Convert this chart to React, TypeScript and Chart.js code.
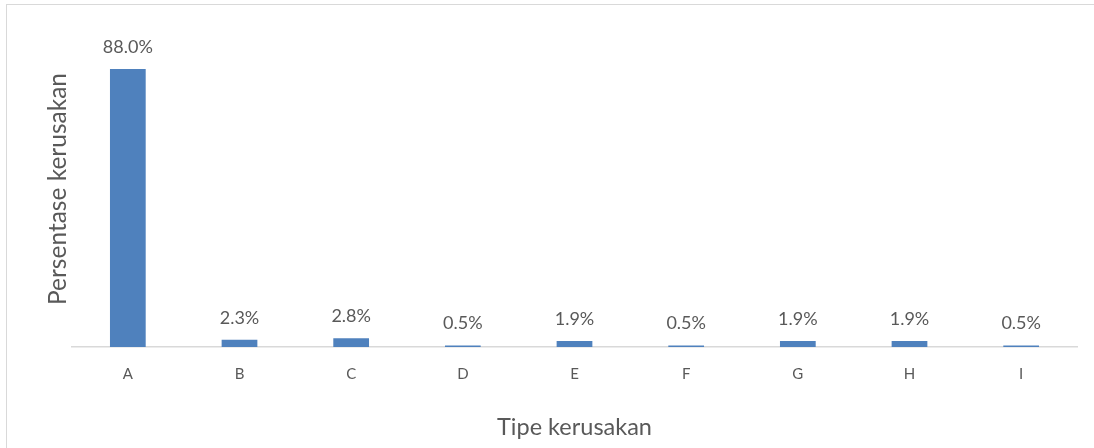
import React, { useEffect, useRef } from "react";
import { Chart, registerables } from "chart.js";

Chart.register(...registerables);

const categories = ["A", "B", "C", "D", "E", "F", "G", "H", "I"];
const values = [88.0, 2.3, 2.8, 0.5, 1.9, 0.5, 1.9, 1.9, 0.5];
const xTitle = "Tipe kerusakan";
const yTitle = "Persentase kerusakan";

const FONT = "Lato, 'Open Sans', sans-serif";
const TEXT = "#595959";

const labelPlugin = {
  id: "valueLabels",
  afterDatasetsDraw(chart: any) {
    const ctx = chart.ctx;
    const meta = chart.getDatasetMeta(0);
    ctx.save();
    ctx.font = `18px ${FONT}`;
    ctx.fillStyle = TEXT;
    ctx.textAlign = "center";
    ctx.textBaseline = "middle";
    meta.data.forEach((bar: any, i: number) => {
      const v = chart.data.datasets[0].data[i] as number;
      ctx.fillText(v.toFixed(1) + "%", bar.x, bar.y - 22);
    });
    ctx.restore();
  },
};

export default function App() {
  const ref = useRef<HTMLCanvasElement>(null);
  useEffect(() => {
    if (!ref.current) return;
    const chart = new Chart(ref.current, {
      type: "bar",
      data: {
        labels: categories,
        datasets: [
          {
            data: values,
            backgroundColor: "#4f81bd",
            barPercentage: 0.32,
            categoryPercentage: 1,
          },
        ],
      },
      options: {
        animation: false,
        responsive: false,
        layout: { padding: { top: 31, right: 17, left: 0, bottom: 0 } },
        plugins: { legend: { display: false }, tooltip: { enabled: false } },
        scales: {
          x: {
            grid: { display: false, drawTicks: false },
            border: { display: true, color: "#d9d9d9", width: 1.5 },
            ticks: { color: TEXT, font: { family: FONT, size: 15 }, padding: 18 },
            title: {
              display: true,
              text: xTitle,
              color: TEXT,
              font: { family: FONT, size: 23.5 },
              padding: { top: 6, bottom: 6 },
            },
            afterFit(s: any) {
              s.height = 101;
            },
          },
          y: {
            min: 0,
            max: 100,
            grid: { display: false, drawTicks: false },
            border: { display: false },
            ticks: { display: false },
            title: {
              display: true,
              text: yTitle,
              color: TEXT,
              font: { family: FONT, size: 24.5 },
              padding: { top: 43, bottom: 0 },
            },
            afterFit(s: any) {
              s.width = 72;
            },
          },
        },
      },
      plugins: [labelPlugin],
    });
    return () => chart.destroy();
  }, []);
  return (
    <div style={{ position: "fixed", left: 0, top: 0, width: 1094, height: 448, background: "#fff" }}>
      <div
        style={{
          position: "absolute",
          left: 6,
          top: 4,
          width: 1200,
          height: 500,
          borderTop: "1.5px solid #d9d9d9",
          borderLeft: "1.5px solid #d9d9d9",
        }}
      />
      <canvas ref={ref} width={1094} height={448} style={{ position: "absolute", left: 0, top: 0 }} />
    </div>
  );
}
